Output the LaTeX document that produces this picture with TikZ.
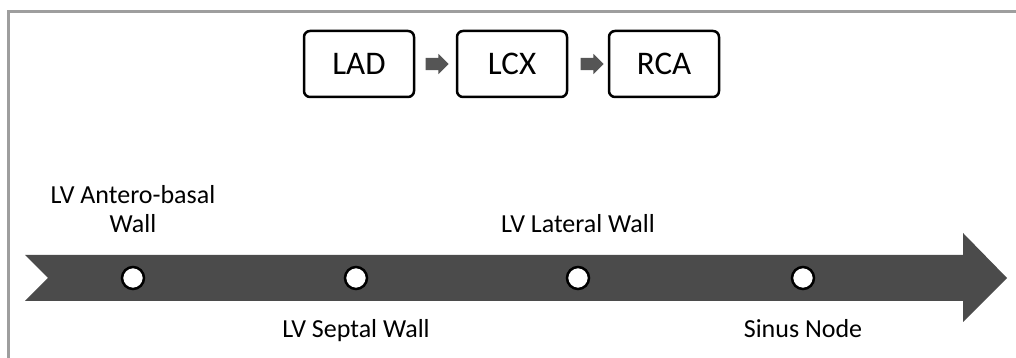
\documentclass[tikz,border=0pt]{standalone}
\usepackage{fontspec}
\setmainfont{Carlito}
\usetikzlibrary{shapes.arrows}
\definecolor{framegray}{HTML}{9E9E9E}
\definecolor{bandgray}{HTML}{4B4B4B}
\definecolor{flowgray}{HTML}{555555}
\begin{document}
\begin{tikzpicture}[x=1pt,y=1pt,font=\fontsize{26}{29}\selectfont,
  vessel/.style={draw,line width=2.5pt,rounded corners=6pt,minimum width=110pt,minimum height=66pt,font=\fontsize{33}{36}\selectfont},
  flow/.style={single arrow,fill=flowgray,inner xsep=0pt,inner ysep=6pt,minimum height=23pt,single arrow head extend=4pt},
  site/.style={circle,draw,fill=white,line width=2.5pt,minimum size=22pt,inner sep=0pt}]
\useasboundingbox (0,0) rectangle (1016,358);
\draw[framegray,line width=3pt] (8,0) -- (8,346) -- (1016,346);

% coronary order
\node[vessel] (lad) at(359,294) {LAD};
\node[vessel] (lcx) at(512,294) {LCX};
\node[vessel] (rca) at(664,294) {RCA};
\node[flow] (f1) at(434,294) {};
\node[flow] (f2) at(589,294) {};

% activation axis
\fill[bandgray] (25,103) -- (963,103) -- (963,125) -- (1007,80) -- (963,36) -- (963,57) -- (25,57) -- (48,80) -- cycle;

\node[site] (ab) at(133,80) {};
\node[site] (sw) at(356,80) {};
\node[site] (lw) at(578,80) {};
\node[site] (sn) at(803,80) {};

\node[anchor=base,align=center] (abl) at(133,125) {LV Antero-basal\\Wall};
\node[anchor=base] (lwl) at(578,125) {LV Lateral Wall};
\node[anchor=base] (swl) at(356,20) {LV Septal Wall};
\node[anchor=base] (snl) at(803,20) {Sinus Node};

\end{tikzpicture}
\end{document}
